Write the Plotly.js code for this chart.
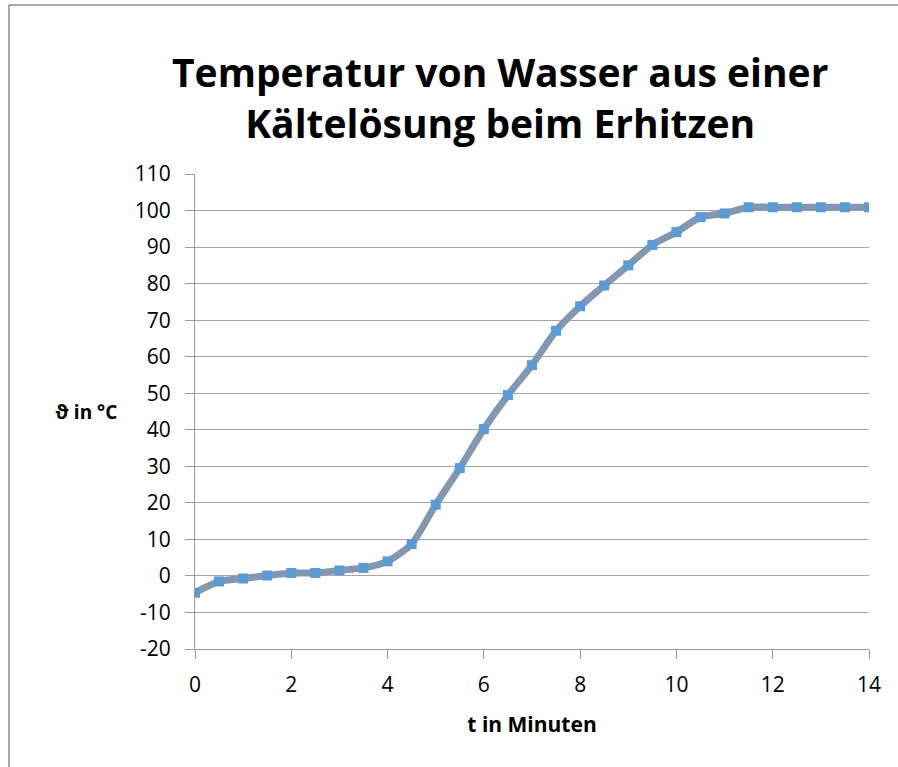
<!DOCTYPE html>
<html>
<head>
<meta charset="utf-8">
<script src="https://cdn.plot.ly/plotly-3.0.1.min.js"></script>
<style>html,body{margin:0;padding:0;background:#fff;}#chart{width:898px;height:767px;}</style>
</head>
<body>
<div id="chart"></div>
<script>
const timeMinutes = [0, 0.5, 1, 1.5, 2, 2.5, 3, 3.5, 4, 4.5, 5, 5.5, 6, 6.5, 7, 7.5, 8, 8.5, 9, 9.5, 10, 10.5, 11, 11.5, 12, 12.5, 13, 13.5, 14];
const temperatureC = [-4.6, -1.5, -0.7, 0.1, 0.8, 0.8, 1.5, 2.2, 4.0, 8.7, 19.5, 29.5, 40.2, 49.5, 57.7, 67.1, 73.8, 79.5, 85.0, 90.6, 94.1, 98.2, 99.2, 100.9, 100.9, 100.9, 100.9, 100.9, 100.9];
const xTicks = [0, 2, 4, 6, 8, 10, 12, 14];
const yTicks = [-20, -10, 0, 10, 20, 30, 40, 50, 60, 70, 80, 90, 100, 110];
const yTickLabels = ["-20", "-10", "0", "10", "20", "30", "40", "50", "60", "70", "80", "90", "100", "110"];

const font = "Open Sans, Noto Sans, Liberation Sans, sans-serif";
const axisColor = "#9a9a9a";

const trace = {
  x: timeMinutes,
  y: temperatureC,
  mode: "lines+markers",
  line: {color: "#8497b0", width: 7, shape: "spline", smoothing: 0.6},
  marker: {symbol: "square", size: 10, color: "#5b9bd5"},
  hoverinfo: "x+y"
};

const layout = {
  width: 898, height: 767,
  margin: {l: 195, r: 29, t: 174, b: 118},
  paper_bgcolor: "#fff", plot_bgcolor: "#fff",
  showlegend: false,
  font: {family: font, color: "#000"},
  title: {
    text: "<b>Temperatur von Wasser aus einer<br>Kältelösung beim Erhitzen</b>",
    font: {family: font, size: 39, color: "#000"},
    x: 0.557, xref: "container", xanchor: "center",
    y: 1 - 87 / 767, yref: "container", yanchor: "middle"
  },
  xaxis: {
    range: [0, 14],
    tickvals: xTicks,
    ticks: "outside", ticklen: 9, tickcolor: axisColor, tickwidth: 1,
    showline: true, linecolor: axisColor, linewidth: 1,
    showgrid: false, zeroline: false,
    tickfont: {family: font, size: 21, color: "#000"},
    ticklabelstandoff: 8,
    title: {text: "<b>t in Minuten</b>", font: {family: font, size: 21, color: "#000"}, standoff: 20}
  },
  yaxis: {
    range: [-20, 110],
    tickvals: yTicks,
    ticktext: yTickLabels,
    ticks: "outside", ticklen: 9, tickcolor: axisColor, tickwidth: 1,
    showline: true, linecolor: axisColor, linewidth: 1,
    showgrid: true, gridcolor: "#a6a6a6", gridwidth: 1,
    zeroline: false,
    tickfont: {family: font, size: 21, color: "#000"},
    ticklabelstandoff: 10
  },
  annotations: [{
    text: "<b>ϑ in °C</b>",
    xref: "paper", yref: "paper",
    x: (119 - 195) / 674, y: (649 - 412) / 475,
    xanchor: "right", yanchor: "middle",
    showarrow: false,
    font: {family: font, size: 19, color: "#000"}
  }],
  shapes: [
    {type: "line", xref: "paper", yref: "paper",
     x0: (9 - 195) / 674, x1: (905 - 195) / 674, y0: (649 - 5) / 475, y1: (649 - 5) / 475,
     line: {color: "#8c8c8c", width: 1.5}},
    {type: "line", xref: "paper", yref: "paper",
     x0: (9 - 195) / 674, x1: (9 - 195) / 674, y0: (649 - 5) / 475, y1: (649 - 780) / 475,
     line: {color: "#8c8c8c", width: 1.5}}
  ]
};

Plotly.newPlot("chart", [trace], layout, {displayModeBar: false});
</script>
</body>
</html>
